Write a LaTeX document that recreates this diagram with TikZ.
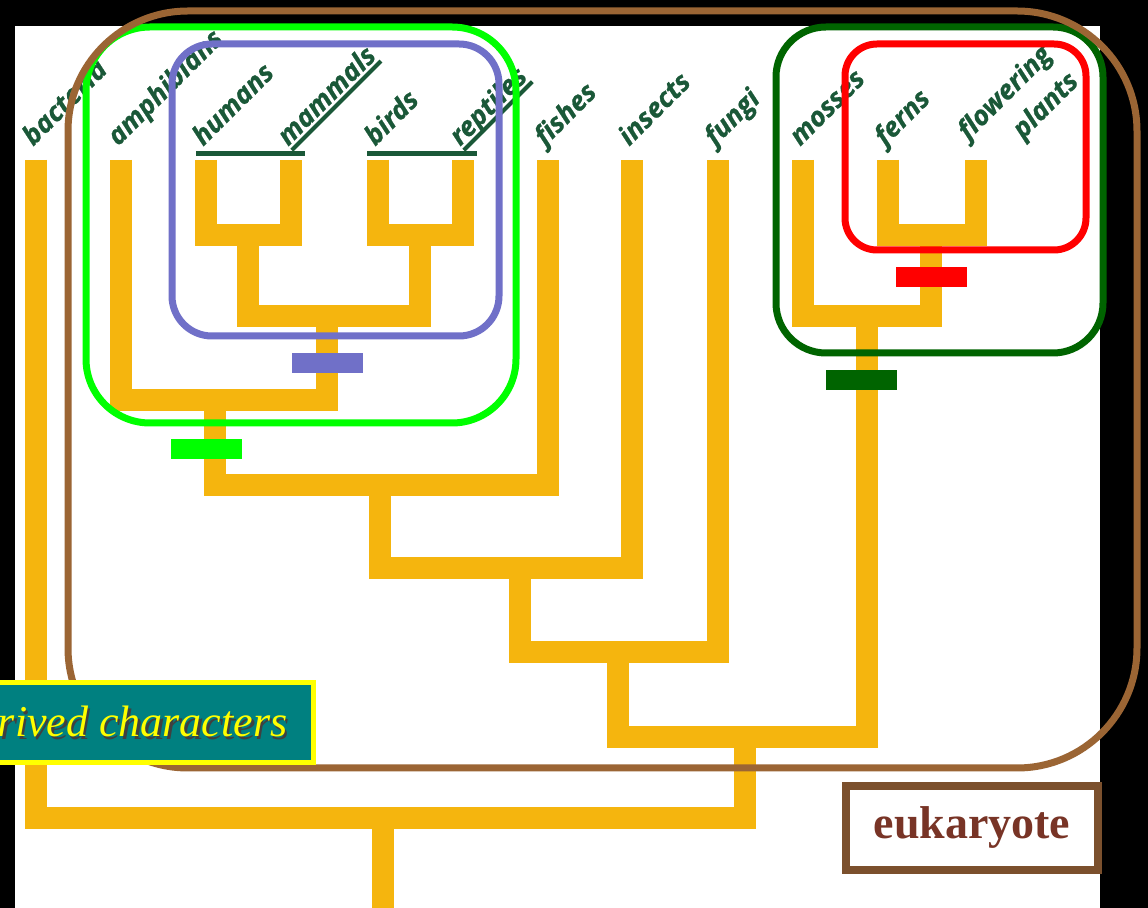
\documentclass[tikz,border=0pt]{standalone}
\usepackage{fontspec}
\setmainfont{Liberation Serif}
\newfontfamily\cladefont{Open Sans}[BoldItalicFeatures={FakeBold=0.8}]
\usetikzlibrary{positioning}
\definecolor{treeorange}{RGB}{245,181,14}
\definecolor{labelgreen}{RGB}{26,88,56}
\definecolor{ringbrown}{RGB}{155,101,52}
\definecolor{ringgreen}{RGB}{0,255,0}
\definecolor{ringblue}{RGB}{112,112,200}
\definecolor{ringdark}{RGB}{0,100,0}
\definecolor{ringred}{RGB}{255,0,0}
\definecolor{traitteal}{RGB}{0,128,128}
\definecolor{traityellow}{RGB}{255,255,0}
\definecolor{eukborder}{RGB}{123,80,45}
\definecolor{euktext}{RGB}{120,52,38}
\newcommand\ulabel[1]{\setbox0\hbox{#1}\rlap{\rule[-3.5pt]{\wd0}{2pt}}\box0}
\newcommand\shadowtext[1]{\rlap{\kern1.2pt\raisebox{-1.2pt}{\color{black!75}#1}}#1}
\tikzset{
  branch/.style={draw=treeorange,line width=11pt},
  leaf label/.style={rotate=45,anchor=base west,inner sep=0pt,text=labelgreen,
    font=\cladefont\bfseries\itshape\fontsize{13.5}{19}\selectfont},
  tie line/.style={labelgreen,line width=2.5pt},
  clade ring/.style={line width=3.5pt},
  clade bar/.style={minimum width=35.5pt,minimum height=10pt,inner sep=0pt},
  trait box/.style={fill=traitteal,draw=traityellow,line width=2.5pt,minimum height=40pt,
    inner xsep=13pt,text=traityellow,font=\itshape\fontsize{22}{25}\selectfont},
  euk box/.style={fill=white,draw=eukborder,line width=4pt,minimum width=126pt,
    minimum height=42pt,text=euktext,font=\bfseries\fontsize{23}{26}\selectfont},
}

\begin{document}
\begin{tikzpicture}[x=0.5pt,y=-0.5pt]
  \useasboundingbox (0,0) rectangle (1148,908);
  \clip (0,0) rectangle (1148,908);
  \fill[black] (0,0) rectangle (1148,908);
  \fill[white] (15,26) rectangle (1100,908);
  % leaves and their names
  \foreach \nm/\x/\txt in {bac/36/bacteria,amp/121/amphibians,hum/206/humans,
      mam/291/\ulabel{mammals},bir/378/birds,rep/463/\ulabel{reptiles},fis/548/fishes,
      ins/632/insects,fun/718/fungi,mos/803/mosses,fer/888/ferns}{
    \coordinate (\nm) at (\x,160);
    \node[leaf label] (l\nm) at (\x-3,147) {\txt};
  }
  \coordinate (flo) at (976,160);
  \node[leaf label,align=right] (lflo) at (995,168) {flowering\\plants\hspace{6pt}};
  % joins
  \coordinate (hm) at (248,235);
  \coordinate (br) at (420,235);
  \coordinate (amn) at (327,316);
  \coordinate (tet) at (215,400);
  \coordinate (fj) at (380,485);
  \coordinate (ij) at (520,568);
  \coordinate (gj) at (618,652);
  \coordinate (pj1) at (931,235);
  \coordinate (pj2) at (867,316);
  \coordinate (ej) at (745,737);
  \coordinate (root) at (383,818);
  \coordinate (base) at (383,920);
  % tree
  \draw[branch] (hum) |- (hm) -| (mam);
  \draw[branch] (bir) |- (br) -| (rep);
  \draw[branch] (hm) |- (amn) -| (br);
  \draw[branch] (amp) |- (tet) -| (amn);
  \draw[branch] (tet) |- (fj) -| (fis);
  \draw[branch] (fj) |- (ij) -| (ins);
  \draw[branch] (ij) |- (gj) -| (fun);
  \draw[branch] (fer) |- (pj1) -| (flo);
  \draw[branch] (mos) |- (pj2) -| (pj1);
  \draw[branch] (gj) |- (ej) -| (pj2);
  \draw[branch] (bac) |- (root) -| (ej);
  \draw[branch] (root) -- (base);
  \draw[tie line] ([xshift=-5pt,yshift=3.25pt]hum) -- ([xshift=7pt,yshift=3.25pt]mam);
  \draw[tie line] ([xshift=-5.5pt,yshift=3.25pt]bir) -- ([xshift=7pt,yshift=3.25pt]rep);
  % clades
  \draw[clade ring,ringblue,rounded corners=20pt] (172,44) rectangle (499,336);
  \draw[clade ring,ringgreen,rounded corners=32pt] (86,27) rectangle (516,423);
  \draw[clade ring,ringred,rounded corners=16pt] (845,44) rectangle (1086,250);
  \draw[clade ring,ringdark,rounded corners=25pt] (776,27) rectangle (1103,353);
  \draw[clade ring,ringbrown,rounded corners=60pt] (68,11) rectangle (1137,768);
  \node[clade bar,fill=ringblue] (bblue) at (327.5,363) {};
  \node[clade bar,fill=ringgreen] (bgreen) at (206.5,449) {};
  \node[clade bar,fill=ringred] (bred) at (931,277) {};
  \node[clade bar,fill=ringdark] (bdark) at (861.5,380) {};
  % boxes
  \node[trait box,anchor=east] (trait) at (316,723) {\shadowtext{rived characters}};
  \node[euk box] (euk) at (972,828) {eukaryote};
\end{tikzpicture}
\end{document}
